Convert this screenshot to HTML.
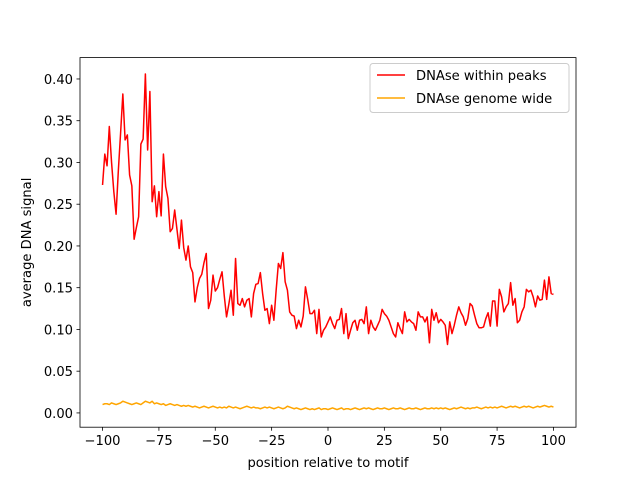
<!DOCTYPE html>
<html><head><meta charset="utf-8"><style>
html,body{margin:0;padding:0;background:#fff}
svg{display:block;font-family:"DejaVu Sans","Liberation Sans",sans-serif}
</style></head><body>
<svg id="chart" width="640" height="480" viewBox="0 0 640 480" xmlns="http://www.w3.org/2000/svg"></svg>
<script>
const xTicks = [-100,-75,-50,-25,0,25,50,75,100];
const yTicks = [0.00,0.05,0.10,0.15,0.20,0.25,0.30,0.35,0.40];
const yTickLabels = ["0.00","0.05","0.10","0.15","0.20","0.25","0.30","0.35","0.40"];
const seriesNames = ["DNAse within peaks","DNAse genome wide"];
const peaksValues = [
.273,.310,.296,.343,.300,.265,.238,.290,.335,.382,.327,.333,.285,.272,.208,.222,.235,.322,.328,.406,.315,.385,.253,.272,.235,
.265,.236,.310,.271,.257,.217,.221,.243,.220,.197,.231,.198,.183,.200,.175,.168,.133,.150,.161,.166,.180,.191,.125,.135,.165,
.146,.150,.160,.169,.140,.115,.130,.147,.117,.185,.131,
.129,.137,.127,.135,.137,.115,.143,.154,.155,.168,.143,.123,.125,.107,.129,.111,.147,.179,.173,.192,.157,.147,.121,.117,.116,
.101,.111,.103,.116,.151,.136,.119,.119,.123,.095,.124,.091,.099,.103,.109,.115,.107,.101,.111,.112,.125,.095,.119,.089,.099,
.108,.111,.099,.111,.112,.107,.127,.095,.111,.103,.099,.105,.111,.124,.119,.116,.111,.103,.095,.091,.108,.101,.095,
.121,.109,.112,.109,.107,.099,.121,.115,.115,.109,.115,.084,.124,.111,.120,.108,.112,.109,.105,.082,.109,.095,.105,.117,.127,
.120,.115,.105,.113,.131,.128,.117,.107,.102,.102,.103,.113,.120,.104,.134,.134,.104,.148,.139,.121,.127,.131,.156,.129,.137,
.108,.111,.121,.127,.148,.145,.147,.139,.127,.140,.135,.136,.159,.136,.163,.143,.142];
const genomeValues = [
.010,.011,.011,.010,.012,.011,.010,.011,.012,.014,.013,.012,.011,.010,.011,.012,.011,.010,.012,.014,.013,.012,.014,.011,.012,
.011,.010,.011,.009,.010,.011,.010,.009,.010,.009,.008,.009,.008,.009,.008,.007,.008,.007,.006,.007,.008,.007,.006,.007,.008,
.007,.006,.007,.006,.007,.006,.008,.007,.006,.007,.006,.005,.006,.007,.008,.007,.006,.007,.006,.006,.005,.006,.007,.006,.007,
.006,.005,.006,.007,.006,.005,.006,.008,.007,.006,.005,.006,.005,.004,.005,.006,.005,.004,.005,.004,.005,.006,.004,.005,.005,
.004,.005,.006,.005,.004,.005,.006,.004,.005,.005,.004,.005,.006,.005,.004,.005,.006,.005,.006,.005,.004,.005,.006,.005,.005,
.006,.005,.004,.005,.006,.005,.005,.006,.005,.004,.005,.006,.005,.005,.006,.005,.004,.005,.006,.005,.005,.006,.005,.006,.005,
.006,.005,.006,.005,.004,.005,.006,.005,.006,.007,.006,.005,.006,.005,.006,.006,.007,.006,.005,.006,.007,.006,.007,.006,.007,
.006,.007,.008,.007,.006,.007,.008,.007,.008,.007,.006,.007,.008,.007,.008,.007,.006,.007,.008,.007,.008,.009,.008,.007,.008,.007];
const xStart = -100;

const NS="http://www.w3.org/2000/svg";
const svg=document.getElementById('chart');
const L=80,R=576,T=57.6,B=427.2;
const xMin=-110,xMax=110,yMin=-0.0171,yMax=0.4256;
const FS=13.1;
function sx(v){return L+(v-xMin)/(xMax-xMin)*(R-L);}
function sy(v){return B-(v-yMin)/(yMax-yMin)*(B-T);}
function mk(tag,attrs,parent){const e=document.createElementNS(NS,tag);for(const k in attrs)e.setAttribute(k,attrs[k]);(parent||svg).appendChild(e);return e;}

function line(vals,color,name){
  const pts=vals.map((v,i)=>sx(xStart+i).toFixed(2)+','+sy(v).toFixed(2)).join(' ');
  const p=mk('polyline',{points:pts,fill:'none',stroke:color,'stroke-width':1.5,'stroke-linejoin':'round'});
  
  
}
line(peaksValues,'#ff0000','series-within-peaks');
line(genomeValues,'#ffa500','series-genome-wide');

const frame=mk('rect',{x:L,y:T,width:R-L,height:B-T,fill:'none',stroke:'#000','stroke-width':0.8});



xTicks.forEach(t=>{
  const x=sx(t);
  const tk=mk('line',{x1:x,x2:x,y1:B,y2:B+3.5,stroke:'#000','stroke-width':0.8});
  
  
  const tx=mk('text',{x:x,y:B+18,'text-anchor':'middle','font-size':FS,fill:'#000'});
  tx.textContent=String(t).replace('-','\u2212');
  
  
});
yTicks.forEach((t,i)=>{
  const y=sy(t);
  const tk=mk('line',{x1:L-3.5,x2:L,y1:y,y2:y,stroke:'#000','stroke-width':0.8});
  
  
  const tx=mk('text',{x:L-7,y:y+5,'text-anchor':'end','font-size':FS,fill:'#000'});
  tx.textContent=yTickLabels[i];
  
  
});
const xl=mk('text',{x:(L+R)/2,y:467,'text-anchor':'middle','font-size':FS});
xl.textContent='position relative to motif';


const yl=mk('text',{x:0,y:0,'text-anchor':'middle','font-size':FS,transform:'translate(31,'+((T+B)/2)+') rotate(-90)'});
yl.textContent='average DNA signal';



const lg=mk('g',{});


mk('rect',{x:370,y:63.5,width:199,height:49,rx:3,fill:'#fff','fill-opacity':0.8,stroke:'#ccc','stroke-width':1},lg);
const colors=['#ff0000','#ffa500'];
seriesNames.forEach((n,i)=>{
  const y=75+i*23;
  const ln=mk('line',{x1:377,x2:405,y1:y,y2:y,stroke:colors[i],'stroke-width':1.5},lg);
  
  
  const tx=mk('text',{x:416,y:y+5,'font-size':FS},lg);
  tx.textContent=n;
  
  
});
</script>
</body></html>
